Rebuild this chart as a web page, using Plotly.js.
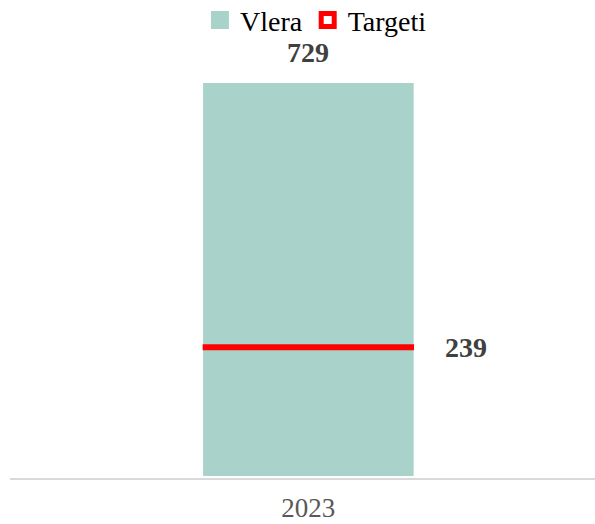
<!DOCTYPE html>
<html><head><meta charset="utf-8">
<script src="https://cdn.plot.ly/plotly-3.0.1.min.js"></script>
<style>html,body{margin:0;padding:0;background:#fff}#chart{width:595px;height:524px}</style>
</head><body><div id="chart"></div>
<script>
const categories = ['2023'];
const values = [729];
const targets = [239];

const font = 'Liberation Serif, Times New Roman, serif';
const teal = '#a9d3ca';
const red = '#ff0000';

const traces = [
  {type:'bar', name:'Vlera', x:categories, y:values, marker:{color:teal}, width:0.36, showlegend:false, hoverinfo:'skip'},
  {type:'scatter', mode:'markers', name:'Targeti', x:categories, y:targets, showlegend:false,
   marker:{symbol:'line-ew-open', size:151, color:red, line:{color:red, width:6}}, hoverinfo:'skip'},
  {type:'scatter', mode:'markers', name:'Vlera', x:categories, y:[null],
   marker:{symbol:'square', size:16, color:teal, line:{color:teal, width:2}}},
  {type:'scatter', mode:'markers', name:'Targeti', x:categories, y:[null],
   marker:{symbol:'square-open', size:13, color:red, line:{color:red, width:5}}}
];

const annotations = [];
categories.forEach((c,i)=>{
  annotations.push({x:i, y:values[i], xref:'x', yref:'y', text:'<b>'+values[i]+'</b>', showarrow:false,
    yanchor:'middle', yshift:30, font:{family:font, size:28, color:'#404040'}});
  annotations.push({x:i, y:targets[i], xref:'x', yref:'y', text:'<b>'+targets[i]+'</b>', showarrow:false,
    yanchor:'middle', xshift:158, font:{family:font, size:28, color:'#404040'}});
});

const layout = {
  width:595, height:524,
  margin:{l:10, r:0, t:60, b:46, autoexpand:false},
  paper_bgcolor:'#fff', plot_bgcolor:'#fff',
  font:{family:font},
  showlegend:true,
  legend:{orientation:'h', x:0.523, xanchor:'center', y:1.155, yanchor:'top',
    font:{family:font, size:28, color:'#000'}, itemwidth:30, tracegroupgap:0},
  xaxis:{type:'category', range:[-0.51,0.49], showline:true, linecolor:'#d9d9d9', linewidth:2,
    ticks:'', ticklabelstandoff:5, tickfont:{family:font, size:27, color:'#595959'}, showgrid:false, zeroline:false, fixedrange:true},
  yaxis:{range:[-3.7,771.6], visible:false, showgrid:false, zeroline:false, fixedrange:true},
  annotations:annotations
};

Plotly.newPlot('chart', traces, layout, {displayModeBar:false, staticPlot:true});
</script></body></html>
